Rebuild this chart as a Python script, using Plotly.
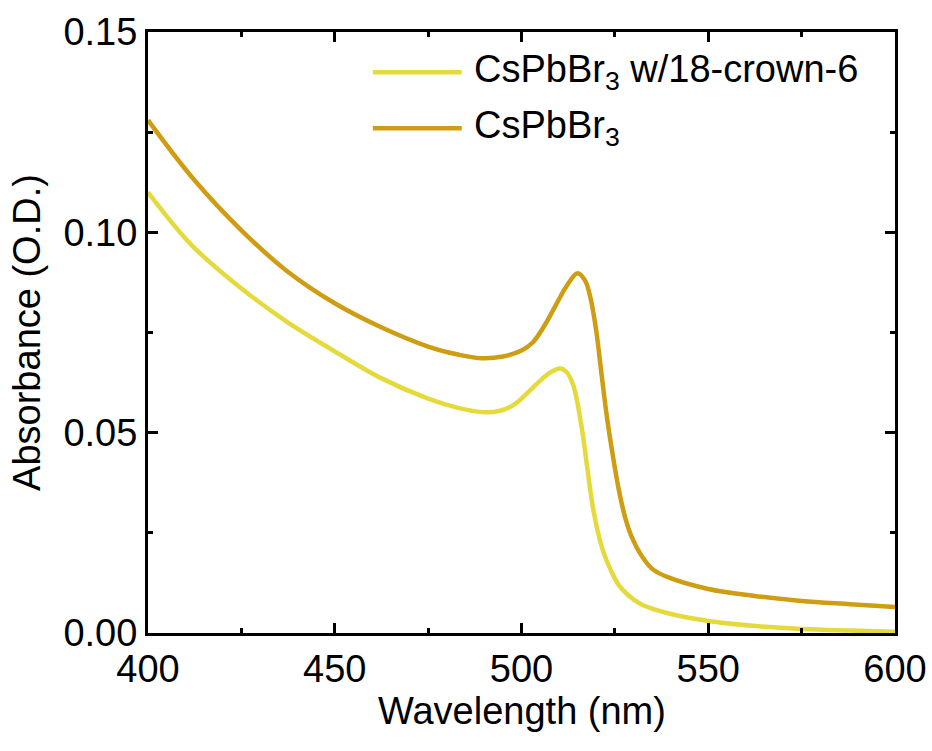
import plotly.graph_objects as go

# Data
wl_pristine = [400, 412, 425, 437, 450, 462, 475, 483, 489, 495, 500, 503, 506, 509,
               512, 515, 517, 518.5, 520, 521.5, 523, 524.5, 526, 527.7, 529.5, 532,
               535, 539, 550, 562, 575, 588, 600]
abs_pristine = [0.128, 0.1135, 0.1005, 0.0905, 0.0823, 0.0765, 0.0715, 0.0695, 0.0686,
                0.069, 0.0705, 0.0725, 0.0765, 0.0815, 0.0865, 0.0898, 0.088, 0.0835,
                0.0755, 0.064, 0.053, 0.044, 0.036, 0.029, 0.024, 0.0195, 0.016,
                0.014, 0.011, 0.0093, 0.008, 0.0072, 0.0065]

wl_crown = [400, 412, 425, 437, 450, 462, 475, 483, 490, 494, 498, 502, 505, 508,
            510.3, 512, 513.8, 516, 517.5, 519, 520.5, 522, 524, 526, 528.5, 532,
            539, 550, 562, 575, 588, 600]
abs_crown = [0.110, 0.0965, 0.086, 0.0778, 0.0703, 0.0638, 0.0585, 0.0562, 0.0551, 0.0554,
             0.057, 0.0603, 0.063, 0.0652, 0.066, 0.0652, 0.062, 0.052, 0.042, 0.032,
             0.025, 0.020, 0.0155, 0.012, 0.0095, 0.0072, 0.005, 0.003, 0.0018,
             0.001, 0.0006, 0.0003]

name_crown = "CsPbBr<sub>3</sub> w/18-crown-6"
name_pristine = "CsPbBr<sub>3</sub>"
color_crown = "#E4DA3C"
color_pristine = "#CF9D12"
x_title = "Wavelength (nm)"
y_title = "Absorbance (O.D.)"

FONT = "Liberation Sans, Arial, sans-serif"

fig = go.Figure()
fig.add_trace(go.Scatter(x=wl_pristine, y=abs_pristine, mode="lines", name=name_pristine,
                         line=dict(color=color_pristine, width=4.5, shape="spline", smoothing=1.0),
                         showlegend=False))
fig.add_trace(go.Scatter(x=wl_crown, y=abs_crown, mode="lines", name=name_crown,
                         line=dict(color=color_crown, width=4.5, shape="spline", smoothing=1.0),
                         showlegend=False))

# Custom legend (paper coordinates)
legend_items = [(name_crown, color_crown, 0.933), (name_pristine, color_pristine, 0.840)]
for txt, col, yy in legend_items:
    fig.add_shape(type="line", xref="paper", yref="paper", x0=0.301, x1=0.420, y0=yy, y1=yy,
                  line=dict(color=col, width=4.5))
    fig.add_annotation(xref="paper", yref="paper", x=0.434, y=yy, text=txt, showarrow=False,
                       xanchor="left", yanchor="middle", font=dict(size=38, color="black", family=FONT))

# x-axis title placed as annotation
fig.add_annotation(xref="paper", yref="paper", x=0.5, y=-0.13, text=x_title, showarrow=False,
                   xanchor="center", yanchor="middle", font=dict(size=38, color="black", family=FONT))

axis_common = dict(showline=True, linecolor="black", linewidth=3, mirror="allticks",
                   ticks="inside", ticklen=10, tickwidth=3, tickcolor="black",
                   showgrid=False, zeroline=False, automargin=False,
                   tickfont=dict(size=38, color="black", family=FONT),
                   title_font=dict(size=38, color="black", family=FONT))

fig.update_layout(
    xaxis=dict(range=[400, 600], dtick=50,
               minor=dict(ticks="inside", ticklen=5, tickwidth=3, tickcolor="black", dtick=25),
               **axis_common),
    yaxis=dict(range=[0, 0.15], dtick=0.05, tickformat=".2f", title_text=y_title,
               minor=dict(ticks="inside", ticklen=5, tickwidth=3, tickcolor="black", dtick=0.025),
               title_standoff=12, **axis_common),
    # overlay axes that only mirror the minor ticks on the top and right sides
    xaxis2=dict(overlaying="x", matches="x", side="top", range=[400, 600], dtick=50,
                ticks="", showticklabels=False, showgrid=False, zeroline=False, showline=False,
                automargin=False,
                minor=dict(ticks="inside", ticklen=5, tickwidth=3, tickcolor="black", dtick=25)),
    yaxis2=dict(overlaying="y", matches="y", side="right", range=[0, 0.15], dtick=0.05,
                ticks="", showticklabels=False, showgrid=False, zeroline=False, showline=False,
                automargin=False,
                minor=dict(ticks="inside", ticklen=5, tickwidth=3, tickcolor="black", dtick=0.025)),
    width=932, height=751, margin=dict(l=148, r=37, t=32, b=118),
    paper_bgcolor="white", plot_bgcolor="white",
    font=dict(family=FONT, color="black"))

# empty helper trace so the overlay axes are drawn
fig.add_trace(go.Scatter(x=[], y=[], xaxis="x2", yaxis="y2", showlegend=False, hoverinfo="skip"))

fig.write_html("out.html")
